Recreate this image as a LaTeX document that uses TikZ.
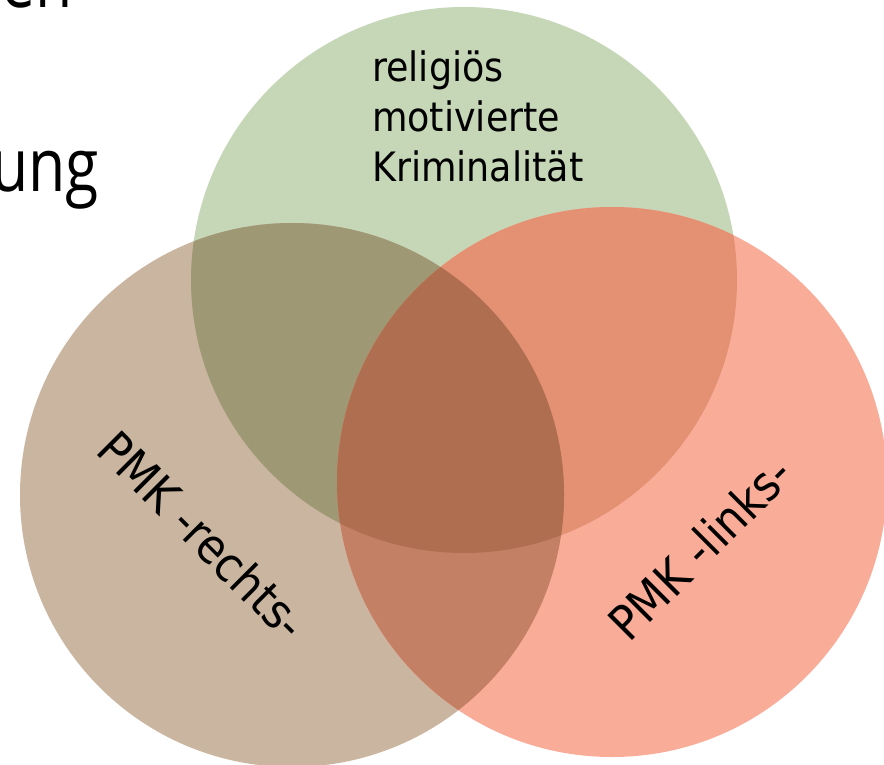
\documentclass[tikz,border=0pt]{standalone}
\usepackage{fontspec}
\newfontfamily\cfont{DejaVu Sans Condensed}
\newfontfamily\hfont{Open Sans}
\definecolor{gonly}{RGB}{198,215,184}
\definecolor{bonly}{RGB}{202,182,160}
\definecolor{ronly}{RGB}{249,172,152}
\definecolor{gbcol}{RGB}{158,152,116}
\definecolor{grcol}{RGB}{228,145,115}
\definecolor{brcol}{RGB}{196,128,100}
\definecolor{gbrcol}{RGB}{176,110,80}
\tikzset{
  circtext/.style={font=\cfont\fontsize{48}{52}\selectfont, inner sep=0pt, text=black},
  toptext/.style={font=\cfont\fontsize{40.5}{50}\selectfont, inner sep=0pt, align=left, text=black},
  headtext/.style={font=\hfont\fontsize{74}{80}\selectfont, inner sep=0pt, text=black, xscale=0.82}
}
\begin{document}
\begin{tikzpicture}[x=1pt,y=-1pt]
\useasboundingbox (0,0) rectangle (884,765);
\fill[white] (0,0) rectangle (884,765);
\def\rg{273}\def\rb{272}\def\rr{275}
\coordinate (gc) at (464,280);
\coordinate (bc) at (292,495);
\coordinate (rc) at (612,482);
% single regions
\fill[gonly] (gc) circle[radius=\rg];
\fill[bonly] (bc) circle[radius=\rb];
\fill[ronly] (rc) circle[radius=\rr];
% pairwise overlaps
\begin{scope}
  \clip (gc) circle[radius=\rg];
  \fill[gbcol] (bc) circle[radius=\rb];
  \fill[grcol] (rc) circle[radius=\rr];
\end{scope}
\begin{scope}
  \clip (bc) circle[radius=\rb];
  \fill[brcol] (rc) circle[radius=\rr];
\end{scope}
% triple overlap
\begin{scope}
  \clip (gc) circle[radius=\rg];
  \clip (bc) circle[radius=\rb];
  \fill[gbrcol] (rc) circle[radius=\rr];
\end{scope}
% texts
\node[toptext, anchor=north west] (rel) at (372,51) {religiös\\motivierte\\Kriminalität};
\node[circtext, rotate=-45] (rechts) at (203,535) {PMK -rechts-};
\node[circtext, rotate=45] (links) at (700,548) {PMK -links-};
\node[headtext, anchor=base east] (ung) at (99,192) {ung};
\node[headtext, anchor=base east] (ien) at (73,8) {ien};
\end{tikzpicture}
\end{document}
